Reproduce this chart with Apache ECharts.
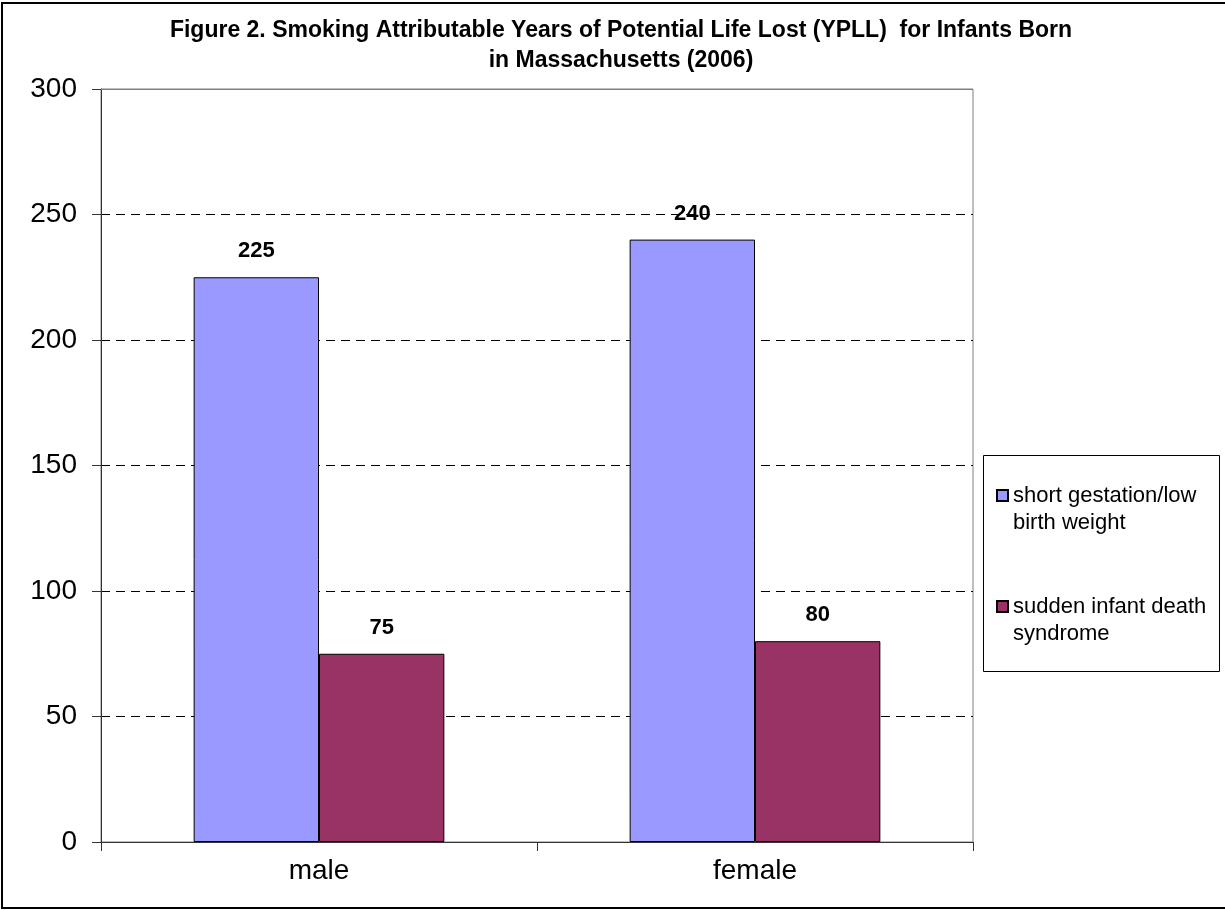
<!DOCTYPE html>
<html>
<head>
<meta charset="utf-8">
<script src="https://cdn.jsdelivr.net/npm/echarts@6/dist/echarts.min.js"></script>
<style>
  html, body { margin: 0; padding: 0; background: #fff; }
  #chart { width: 1225px; height: 910px; }
</style>
</head>
<body>
<div id="chart"></div>
<script>
const titleText = 'Figure 2. Smoking Attributable Years of Potential Life Lost (YPLL)  for Infants Born\nin Massachusetts (2006)';
const categories = ['male', 'female'];
const seriesNames = ['short gestation/low\nbirth weight', 'sudden infant death\nsyndrome'];
const shortGestation = [225, 240];
const suddenInfantDeath = [75, 80];
const yMin = 0, yMax = 300, yStep = 50;

const FONT = '"Liberation Sans", Arial, sans-serif';
const chart = echarts.init(document.getElementById('chart'), null, { renderer: 'canvas' });

const labelStyle = {
  show: true, position: 'top', distance: 15,
  color: '#000', fontWeight: 'bold', fontSize: 22, fontFamily: FONT
};

chart.setOption({
  animation: false,
  backgroundColor: '#fff',
  textStyle: { fontFamily: FONT },
  title: {
    text: titleText,
    left: 616, top: 11, textAlign: 'center',
    textStyle: { fontSize: 23, fontWeight: 'bold', color: '#000', lineHeight: 30, fontFamily: FONT }
  },
  grid: {
    left: 101, right: 252, top: 89, bottom: 68,
    show: true, borderColor: '#808080', borderWidth: 1, backgroundColor: 'transparent'
  },
  legend: {
    orient: 'vertical', left: 996, top: 455, padding: 0,
    itemWidth: 11, itemHeight: 11, itemGap: 30,
    icon: 'rect',
    selectedMode: false,
    formatter: function (name) { return '\n' + name; },
    textStyle: { fontSize: 22, lineHeight: 27, color: '#000', fontFamily: FONT },
    data: seriesNames
  },
  xAxis: {
    type: 'category', data: categories,
    axisLine: { show: true, lineStyle: { color: '#333', width: 1 } },
    axisTick: { show: true, length: 9, inside: false, alignWithLabel: false, lineStyle: { color: '#333' } },
    axisLabel: { fontSize: 28, color: '#000', margin: 15, fontFamily: FONT },
    splitLine: { show: false }
  },
  yAxis: {
    type: 'value', min: yMin, max: yMax, interval: yStep,
    axisLine: { show: true, lineStyle: { color: '#333', width: 1 } },
    axisTick: { show: true, length: 9, lineStyle: { color: '#333' } },
    axisLabel: { fontSize: 28, color: '#000', margin: 24, fontFamily: FONT },
    splitLine: { show: true, lineStyle: { color: '#000', type: [9, 6], width: 1 } }
  },
  series: [
    {
      name: seriesNames[0], type: 'bar', data: shortGestation,
      barGap: '0%', barCategoryGap: '42.5%',
      itemStyle: { color: '#9999FF', borderColor: '#000', borderWidth: 1 },
      label: labelStyle,
      markLine: {
        silent: true, symbol: 'none', label: { show: false },
        lineStyle: { color: '#808080', type: 'solid', width: 1 },
        data: [{ yAxis: yMax }]
      }
    },
    {
      name: seriesNames[1], type: 'bar', data: suddenInfantDeath,
      itemStyle: { color: '#993366', borderColor: '#000', borderWidth: 1 },
      label: labelStyle
    }
  ],
  graphic: [
    {
      type: 'rect', silent: true, z: 100,
      shape: { x: 2, y: 3, width: 1240, height: 905 },
      style: { fill: 'none', stroke: '#000', lineWidth: 2 }
    },
    {
      type: 'rect', silent: true, z: 100,
      shape: { x: 983.5, y: 455.5, width: 236, height: 216 },
      style: { fill: 'none', stroke: '#000', lineWidth: 1 }
    }
  ]
});
</script>
</body>
</html>
